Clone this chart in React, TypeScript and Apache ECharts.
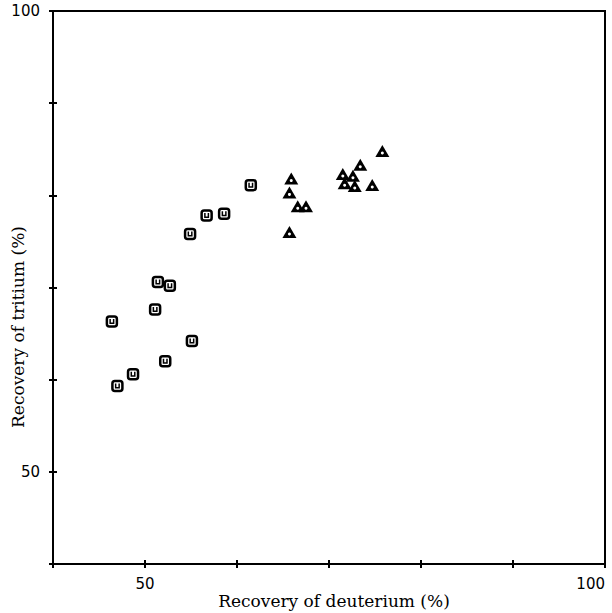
import React, { useEffect, useRef } from "react";
import * as echarts from "echarts";

// Recovery of deuterium (%) vs recovery of tritium (%)
const squareX = [61.5, 56.7, 58.6, 54.9, 51.4, 52.7, 51.1, 46.4, 55.1, 52.2, 48.7, 47.0];
const squareY = [81.1, 77.8, 78.0, 75.8, 70.6, 70.2, 67.6, 66.3, 64.2, 62.0, 60.6, 59.3];
const triangleX = [75.8, 73.4, 71.5, 72.6, 71.7, 72.8, 74.7, 65.9, 65.7, 66.6, 67.5, 65.7];
const triangleY = [84.6, 83.1, 82.1, 81.9, 81.1, 80.8, 80.9, 81.6, 80.1, 78.6, 78.6, 75.8];
const labeledTicks = [50, 100];
const xName = "Recovery of deuterium (%)";
const yName = "Recovery of tritium (%)";

const U_PATH = "path://M0,0 L0,10 L10,10 L10,0 L7,0 L7,7 L3,7 L3,0 Z";

export default function App() {
  const ref = useRef<HTMLDivElement>(null);

  useEffect(() => {
    document.body.style.margin = "0";
    if (!ref.current) return;
    const chart = echarts.init(ref.current, undefined, { renderer: "svg" });

    const squares = squareX.map((x, i) => [x, squareY[i]]);
    const triangles = triangleX.map((x, i) => [x, triangleY[i]]);

    const labelFmt = (v: number) => (labeledTicks.includes(v) ? String(v) : "");
    const tickFont = {
      color: "#000",
      fontFamily: "DejaVu Sans",
      fontSize: 15,
    };
    const tickStyle = { color: "#000", width: 2 };
    const gridBox = {
      left: 53,
      right: 7,
      top: 11,
      bottom: 49,
      containLabel: false,
      outerBoundsMode: "none",
    };

    const baseAxis = {
      type: "value" as const,
      min: 40,
      max: 100,
      interval: 10,
      splitLine: { show: false },
      axisLine: { show: true, onZero: false, lineStyle: { color: "#000", width: 2 } },
    };

    chart.setOption({
      animation: false,
      backgroundColor: "#fff",
      grid: [
        { ...gridBox, show: true, borderColor: "#000", borderWidth: 2, backgroundColor: "transparent" },
        { ...gridBox, show: false },
      ],
      xAxis: [
        {
          ...baseAxis,
          gridIndex: 0,
          position: "bottom",
          axisTick: { show: true, inside: true, length: 4, lineStyle: tickStyle },
          axisLabel: { ...tickFont, margin: 12, formatter: labelFmt, alignMaxLabel: "right" },
        },
        {
          ...baseAxis,
          gridIndex: 1,
          position: "bottom",
          axisTick: { show: true, inside: false, length: 4, lineStyle: tickStyle },
          axisLabel: { show: false },
        },
      ],
      yAxis: [
        {
          ...baseAxis,
          gridIndex: 0,
          position: "left",
          axisTick: { show: true, inside: true, length: 4, lineStyle: tickStyle },
          axisLabel: { ...tickFont, margin: 13, formatter: labelFmt },
        },
        {
          ...baseAxis,
          gridIndex: 1,
          position: "left",
          axisTick: { show: true, inside: false, length: 4, lineStyle: tickStyle },
          axisLabel: { show: false },
        },
      ],
      graphic: [
        {
          type: "text",
          x: 334,
          y: 601,
          style: {
            text: xName,
            fill: "#000",
            font: "17px 'DejaVu Serif'",
            align: "center",
            verticalAlign: "middle",
          },
        },
        {
          type: "text",
          x: 18,
          y: 327,
          rotation: Math.PI / 2,
          style: {
            text: yName,
            fill: "#000",
            font: "17px 'DejaVu Serif'",
            align: "center",
            verticalAlign: "middle",
          },
        },
      ],
      series: [
        {
          type: "scatter",
          xAxisIndex: 0,
          yAxisIndex: 0,
          data: squares,
          symbol: "roundRect",
          symbolSize: 10,
          itemStyle: { color: "#fff", borderColor: "#000", borderWidth: 2.5, opacity: 1 },
          silent: true,
          z: 2,
        },
        {
          type: "scatter",
          xAxisIndex: 0,
          yAxisIndex: 0,
          data: squares,
          symbol: U_PATH,
          symbolSize: [5, 5],
          itemStyle: { color: "#000", opacity: 1 },
          silent: true,
          z: 3,
        },
        {
          type: "scatter",
          xAxisIndex: 0,
          yAxisIndex: 0,
          data: triangles,
          symbol: "triangle",
          symbolSize: [14, 12],
          symbolOffset: [0, -2],
          itemStyle: { color: "#000", opacity: 1 },
          silent: true,
          z: 2,
        },
        {
          type: "scatter",
          xAxisIndex: 0,
          yAxisIndex: 0,
          data: triangles,
          symbol: "circle",
          symbolSize: 3,
          itemStyle: { color: "#fff", opacity: 1 },
          silent: true,
          z: 3,
        },
      ],
    });

    return () => chart.dispose();
  }, []);

  return (
    <div
      ref={ref}
      style={{ width: 612, height: 613, position: "absolute", left: 0, top: 0 }}
    />
  );
}
